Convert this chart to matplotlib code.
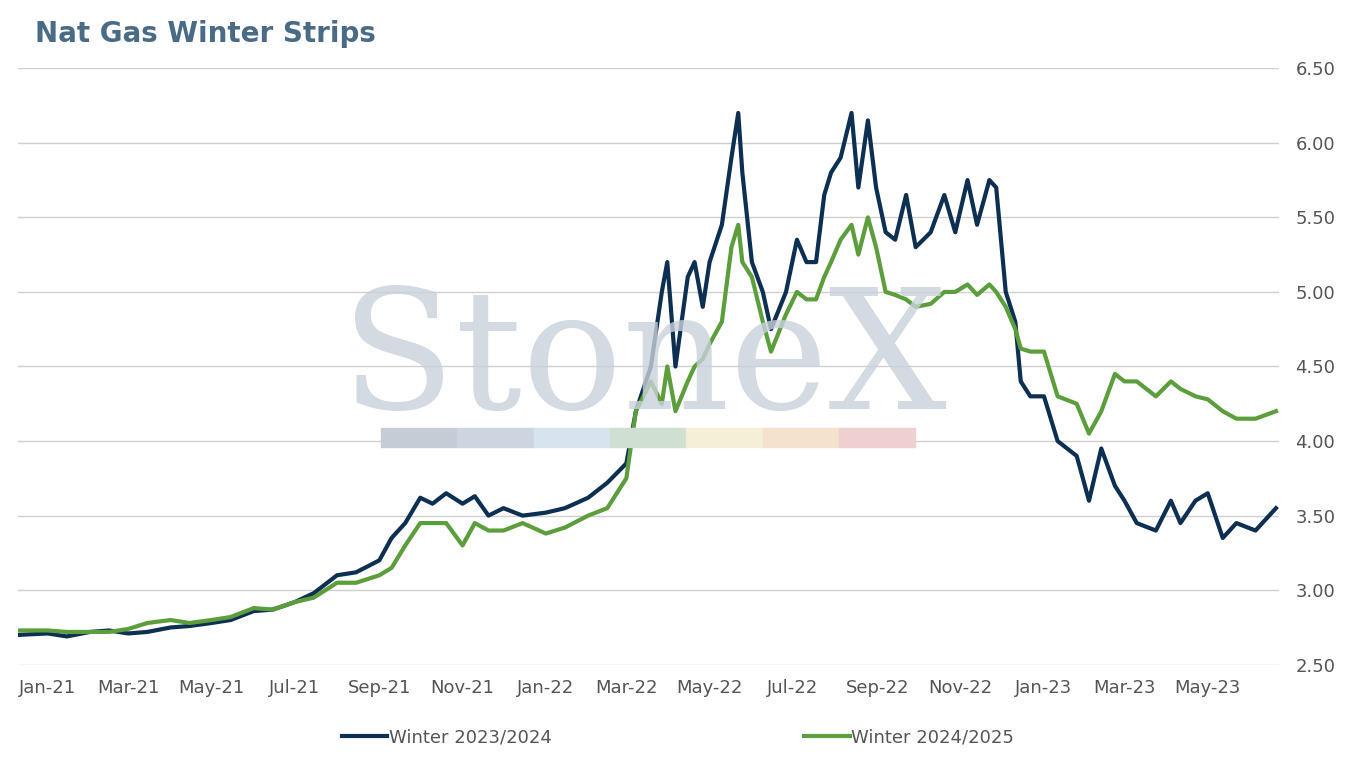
import numpy as np
import pandas as pd
import matplotlib.pyplot as plt
import matplotlib.dates as mdates

dates = ['2020-12-10', '2021-01-01', '2021-01-15', '2021-02-01', '2021-02-15', '2021-03-01', '2021-03-15',
         '2021-04-01', '2021-04-15', '2021-05-01', '2021-05-15', '2021-06-01', '2021-06-15', '2021-07-01',
         '2021-07-15', '2021-08-01', '2021-08-15', '2021-09-01', '2021-09-10', '2021-09-20', '2021-10-01',
         '2021-10-10', '2021-10-20', '2021-11-01', '2021-11-10', '2021-11-20', '2021-12-01', '2021-12-15',
         '2022-01-01', '2022-01-15', '2022-02-01', '2022-02-15', '2022-03-01',
         '2022-03-08', '2022-03-19', '2022-03-27', '2022-03-31', '2022-04-06', '2022-04-15', '2022-04-20',
         '2022-04-26', '2022-05-01', '2022-05-10', '2022-05-17', '2022-05-22', '2022-05-25', '2022-06-01',
         '2022-06-09', '2022-06-15', '2022-06-26', '2022-07-04', '2022-07-11', '2022-07-18', '2022-07-24',
         '2022-07-29', '2022-08-05', '2022-08-13', '2022-08-18', '2022-08-25', '2022-08-31', '2022-09-07',
         '2022-09-14', '2022-09-22', '2022-09-29', '2022-10-10', '2022-10-20', '2022-10-28', '2022-11-06',
         '2022-11-13', '2022-11-22', '2022-11-27', '2022-12-04', '2022-12-11', '2022-12-15', '2022-12-22',
         '2023-01-01', '2023-01-11', '2023-01-25', '2023-02-03', '2023-02-12', '2023-02-22', '2023-03-01',
         '2023-03-10', '2023-03-24', '2023-04-04', '2023-04-11', '2023-04-22', '2023-05-01', '2023-05-12',
         '2023-05-22', '2023-06-05', '2023-06-20']

winter_2324 = [2.70, 2.71, 2.69, 2.72, 2.73, 2.71, 2.72, 2.75, 2.76, 2.78, 2.80, 2.86, 2.87, 2.92,
               2.98, 3.10, 3.12, 3.20, 3.35, 3.45, 3.62, 3.58, 3.65, 3.58, 3.63, 3.50, 3.55, 3.50,
               3.52, 3.55, 3.62, 3.72, 3.85,
               4.2, 4.5, 5.0, 5.2, 4.5, 5.1, 5.2, 4.9, 5.2, 5.45,
               5.9, 6.2, 5.8, 5.2, 5.0, 4.75, 5.0, 5.35, 5.2, 5.2,
               5.65, 5.8, 5.9, 6.2, 5.7, 6.15, 5.7, 5.4, 5.35, 5.65,
               5.3, 5.4, 5.65, 5.4, 5.75, 5.45, 5.75, 5.7, 5.0, 4.8,
               4.4, 4.3, 4.3, 4.0, 3.9, 3.6, 3.95, 3.7, 3.6, 3.45,
               3.4, 3.6, 3.45, 3.6, 3.65, 3.35, 3.45, 3.4, 3.55]

winter_2425 = [2.73, 2.73, 2.72, 2.72, 2.72, 2.74, 2.78, 2.80, 2.78, 2.80, 2.82, 2.88, 2.87, 2.92,
               2.95, 3.05, 3.05, 3.10, 3.15, 3.30, 3.45, 3.45, 3.45, 3.30, 3.45, 3.40, 3.40, 3.45,
               3.38, 3.42, 3.50, 3.55, 3.75,
               4.2, 4.4, 4.25, 4.5, 4.2, 4.4, 4.5, 4.55, 4.65, 4.8,
               5.3, 5.45, 5.2, 5.1, 4.8, 4.6, 4.85, 5.0, 4.95, 4.95,
               5.1, 5.2, 5.35, 5.45, 5.25, 5.5, 5.3, 5.0, 4.98, 4.95,
               4.9, 4.92, 5.0, 5.0, 5.05, 4.98, 5.05, 5.0, 4.9, 4.75,
               4.62, 4.6, 4.6, 4.3, 4.25, 4.05, 4.2, 4.45, 4.4, 4.4,
               4.3, 4.4, 4.35, 4.3, 4.28, 4.2, 4.15, 4.15, 4.2]

ticks = ['2021-01-01', '2021-03-01', '2021-05-01', '2021-07-01', '2021-09-01', '2021-11-01',
         '2022-01-01', '2022-03-01', '2022-05-01', '2022-07-01', '2022-09-01', '2022-11-01',
         '2023-01-01', '2023-03-01', '2023-05-01']

x = pd.to_datetime(dates)

fig = plt.figure(figsize=(13.56, 7.58), dpi=100)
ax = fig.add_axes([0.013, 0.123, 0.93, 0.787])

# watermark
fig.text(0.475, 0.52, 'StoneX', fontsize=120, family='DejaVu Serif', color='#c9d1da',
         ha='center', va='center', alpha=0.8, zorder=0)
wm_cols = ['#c5ccd6', '#cdd6e0', '#d7e3ef', '#cfe0d2', '#f5efd8', '#f5e2cc', '#efcfcf']
for i, c in enumerate(wm_cols):
    fig.patches.append(plt.Rectangle((0.281 + i * 0.0563, 0.41), 0.0563, 0.025,
                                     transform=fig.transFigure, color=c, zorder=0))

ax.plot(x, winter_2324, color='#0d2f52', lw=3, label='Winter 2023/2024')
ax.plot(x, winter_2425, color='#5c9e3c', lw=3, label='Winter 2024/2025')

ax.set_ylim(2.5, 6.5)
ax.set_yticks(np.arange(2.5, 6.51, 0.5))
ax.yaxis.tick_right()
ax.yaxis.set_major_formatter(plt.FuncFormatter(lambda v, p: f'{v:.2f}'))
ax.set_xlim(pd.Timestamp('2020-12-10'), pd.Timestamp('2023-06-22'))
ax.set_xticks(pd.to_datetime(ticks))
ax.xaxis.set_major_formatter(mdates.DateFormatter('%b-%y'))
ax.grid(axis='y', color='#d0d0d0', lw=1)
ax.set_axisbelow(True)
ax.patch.set_alpha(0)
for s in ax.spines.values():
    s.set_visible(False)
ax.tick_params(length=0, labelsize=13, labelcolor='#555555', pad=10)
ax.tick_params(axis='y', pad=12)

fig.text(0.026, 0.955, 'Nat Gas Winter Strips', fontsize=20, fontweight='bold',
         color='#4a6b86', va='center')
fig.legend(loc='center', bbox_to_anchor=(0.5, 0.027), ncol=2, frameon=False, fontsize=13,
           handlelength=2.5, columnspacing=14, handletextpad=0.1, labelcolor='#555555')

fig.savefig('out.png', dpi=100)
